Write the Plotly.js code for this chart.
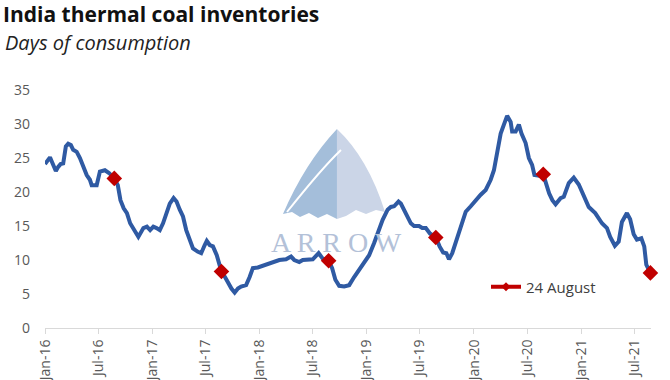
<!DOCTYPE html>
<html>
<head>
<meta charset="utf-8">
<script src="https://cdn.plot.ly/plotly-3.0.1.min.js"></script>
<style>html,body{margin:0;padding:0;background:#fff;}#chart{width:670px;height:380px;}</style>
</head>
<body>
<div id="chart"></div>
<script>
// ---- Data ----
const lineDates = [
"2016-01-01","2016-01-18","2016-01-27","2016-02-07","2016-02-15","2016-02-23","2016-03-03","2016-03-12","2016-03-20","2016-03-29",
"2016-04-06","2016-04-18","2016-04-29","2016-05-10","2016-05-22","2016-06-02","2016-06-08","2016-06-25","2016-07-06","2016-07-23",
"2016-08-06","2016-08-24","2016-09-05","2016-09-14","2016-09-25","2016-10-06","2016-10-17","2016-11-03","2016-11-14","2016-12-01",
"2016-12-13","2016-12-24","2017-01-04","2017-01-15","2017-01-26","2017-02-06","2017-02-18","2017-03-01","2017-03-14","2017-03-24",
"2017-04-04","2017-04-15","2017-04-26","2017-05-08","2017-05-19","2017-06-05","2017-06-16","2017-06-28","2017-07-05","2017-07-15",
"2017-07-26","2017-08-08","2017-08-24","2017-09-05","2017-09-16","2017-09-27","2017-10-08","2017-10-19","2017-10-30","2017-11-16",
"2017-11-28","2017-12-09","2017-12-26","2018-01-10","2018-01-23","2018-02-15","2018-03-09","2018-04-01","2018-04-18","2018-04-29",
"2018-05-16","2018-05-28","2018-06-14","2018-07-01","2018-07-21","2018-08-04","2018-08-24","2018-09-05","2018-09-16","2018-09-29",
"2018-10-16","2018-11-02","2018-11-19","2018-12-06","2018-12-23","2019-01-09","2019-01-26","2019-02-07","2019-02-24","2019-03-13",
"2019-03-24","2019-04-04","2019-04-19","2019-04-27","2019-05-08","2019-05-19","2019-05-31","2019-06-11","2019-06-28","2019-07-09",
"2019-07-21","2019-08-04","2019-08-24","2019-09-06","2019-09-18","2019-09-29","2019-10-08","2019-10-19","2019-10-31","2019-11-17",
"2019-12-04","2019-12-21","2020-01-07","2020-01-24","2020-02-10","2020-02-27","2020-03-09","2020-03-20","2020-04-01","2020-04-12",
"2020-04-23","2020-05-05","2020-05-10","2020-05-22","2020-06-02","2020-06-11","2020-06-25","2020-07-06","2020-07-17","2020-07-25",
"2020-08-10","2020-08-24","2020-09-03","2020-09-13","2020-09-24","2020-10-05","2020-10-22","2020-11-02","2020-11-19","2020-12-06",
"2020-12-23","2021-01-09","2021-01-26","2021-02-17","2021-03-12","2021-03-29","2021-04-09","2021-04-25","2021-05-08","2021-05-19",
"2021-06-05","2021-06-16","2021-06-28","2021-07-09","2021-07-24","2021-08-03","2021-08-10","2021-08-24"
];
const lineDays = [
24.1,25.1,24.2,23.1,23.7,24.1,24.2,26.7,27.1,26.9,
26.2,25.9,25.0,23.7,22.5,21.8,21.0,21.0,23.0,23.2,
22.8,22.0,21.0,18.8,17.6,16.9,15.4,14.2,13.4,14.7,
14.9,14.4,14.9,14.7,14.4,15.4,16.9,18.3,19.1,18.6,
17.4,16.4,14.4,12.9,11.7,11.2,11.0,12.2,12.8,12.2,
12.0,10.7,8.3,7.5,6.6,5.8,5.2,5.8,6.1,6.3,
7.5,8.8,8.9,9.1,9.3,9.7,10.0,10.1,10.5,10.0,
9.7,10.0,10.0,10.1,11.0,10.2,9.9,8.8,7.1,6.2,
6.1,6.3,7.5,8.5,9.7,10.7,12.5,13.9,15.9,17.4,
17.8,17.9,18.6,18.3,17.4,16.4,15.4,15.0,15.0,14.7,
14.7,13.9,13.3,12.0,11.1,11.0,10.1,11.0,12.7,14.9,
17.1,17.9,18.8,19.6,20.3,21.8,23.2,26.2,28.6,29.9,
31.2,30.3,28.9,28.9,29.9,28.6,27.2,25.0,24.0,22.5,
22.4,22.6,21.0,19.8,18.8,18.2,19.1,19.3,21.3,22.1,
21.1,19.5,17.8,16.9,15.4,14.7,13.4,12.1,12.7,15.6,
16.9,16.0,13.8,13.0,13.2,12.0,9.3,8.1
];
const augDates = ["2016-08-24","2017-08-24","2018-08-24","2019-08-24","2020-08-24","2021-08-24"];
const augDays  = [22.0, 8.3, 9.9, 13.3, 22.6, 8.1];
const augLabel = "24 August";
const titleText = "India thermal coal inventories";
const subtitleText = "Days of consumption";
const watermarkText = "A R R O W";

// ---- layout helpers (pixel -> paper) ----
const L = 45, R = 651, T = 90, B = 328;
const px = x => (x - L) / (R - L);
const py = y => (B - y) / (B - T);
const P = (x, y) => px(x).toFixed(4) + "," + py(y).toFixed(4);

const traces = [
  {x: lineDates, y: lineDays, type: "scatter", mode: "lines", showlegend: false,
   line: {color: "#2F5AA3", width: 4}, hoverinfo: "skip"},
  {x: augDates, y: augDays, type: "scatter", mode: "markers", showlegend: false, cliponaxis: false,
   marker: {symbol: "diamond", size: 12, color: "#C00000"}},
  // legend entry (Excel-style line with small diamond)
  {x: [null], y: [null], type: "scatter", mode: "lines+markers", name: augLabel, showlegend: true,
   line: {color: "#C00000", width: 4},
   marker: {symbol: "diamond", size: 7, color: "#C00000"}}
];

const sailLeft = "M " + P(337,129) + " Q " + P(305,163) + " " + P(283,214) +
  " L " + P(292,212) + " L " + P(300,217) + " L " + P(309,213) + " L " + P(318,218) +
  " L " + P(327,214) + " L " + P(337,219) + " Z";
const sailRight = "M " + P(337,129) + " Q " + P(368,158) + " " + P(385,212) +
  " L " + P(376,210) + " L " + P(366,214) + " L " + P(356,210) + " L " + P(346,216) +
  " L " + P(337,219) + " Z";
const sailCurve = "M " + P(287,212) + " Q " + P(322,168) + " " + P(341,150);

const layout = {
  width: 670, height: 380,
  margin: {l: L, r: 670 - R, t: T, b: 380 - B, pad: 0},
  paper_bgcolor: "#ffffff", plot_bgcolor: "#ffffff",
  font: {family: "Open Sans, sans-serif", color: "#595959", size: 14},
  title: {text: "<b>" + titleText + "</b>", font: {family: "Open Sans, sans-serif", size: 21, color: "#111111"},
          x: 3/670, xref: "container", xanchor: "left", y: 1 - 15/380, yref: "container", yanchor: "middle"},
  xaxis: {type: "date", range: ["2016-01-01", "2021-08-26"], showgrid: false, zeroline: false,
          showline: true, linecolor: "#D9D9D9", linewidth: 1,
          ticks: "outside", ticklen: 5, tickcolor: "#D9D9D9",
          tick0: "2016-01-01", dtick: "M6", tickformat: "%b-%y", tickangle: -90,
          tickfont: {size: 14, color: "#595959"}, fixedrange: true},
  yaxis: {range: [0, 35], dtick: 5, tick0: 0, showgrid: false, zeroline: false, showline: false,
          ticks: "", ticklabelstandoff: 14, tickfont: {size: 14, color: "#595959"}, fixedrange: true},
  legend: {x: px(486), y: py(287), xanchor: "left", yanchor: "middle", bgcolor: "rgba(0,0,0,0)",
           font: {size: 15, color: "#404040"}, itemwidth: 30},
  shapes: [
    {type: "path", path: sailLeft, xref: "paper", yref: "paper", fillcolor: "#A4BEDA", line: {width: 0}, layer: "below"},
    {type: "path", path: sailRight, xref: "paper", yref: "paper", fillcolor: "#CBD5E7", line: {width: 0}, layer: "below"},
    {type: "path", path: sailCurve, xref: "paper", yref: "paper", line: {color: "#ffffff", width: 2}, layer: "below"}
  ],
  annotations: [
    {text: "<i>" + subtitleText + "</i>", xref: "paper", yref: "paper", x: px(3), y: py(42),
     xanchor: "left", yanchor: "middle", showarrow: false,
     font: {family: "Open Sans, sans-serif", size: 20, color: "#222222"}},
    {text: watermarkText, xref: "paper", yref: "paper", x: px(336), y: py(243),
     xanchor: "center", yanchor: "middle", showarrow: false,
     font: {family: "Liberation Serif, serif", size: 28, color: "#B3C1D8"}}
  ],
  showlegend: true,
  hovermode: false
};

Plotly.newPlot("chart", traces, layout, {displayModeBar: false, staticPlot: true});
</script>
</body>
</html>
